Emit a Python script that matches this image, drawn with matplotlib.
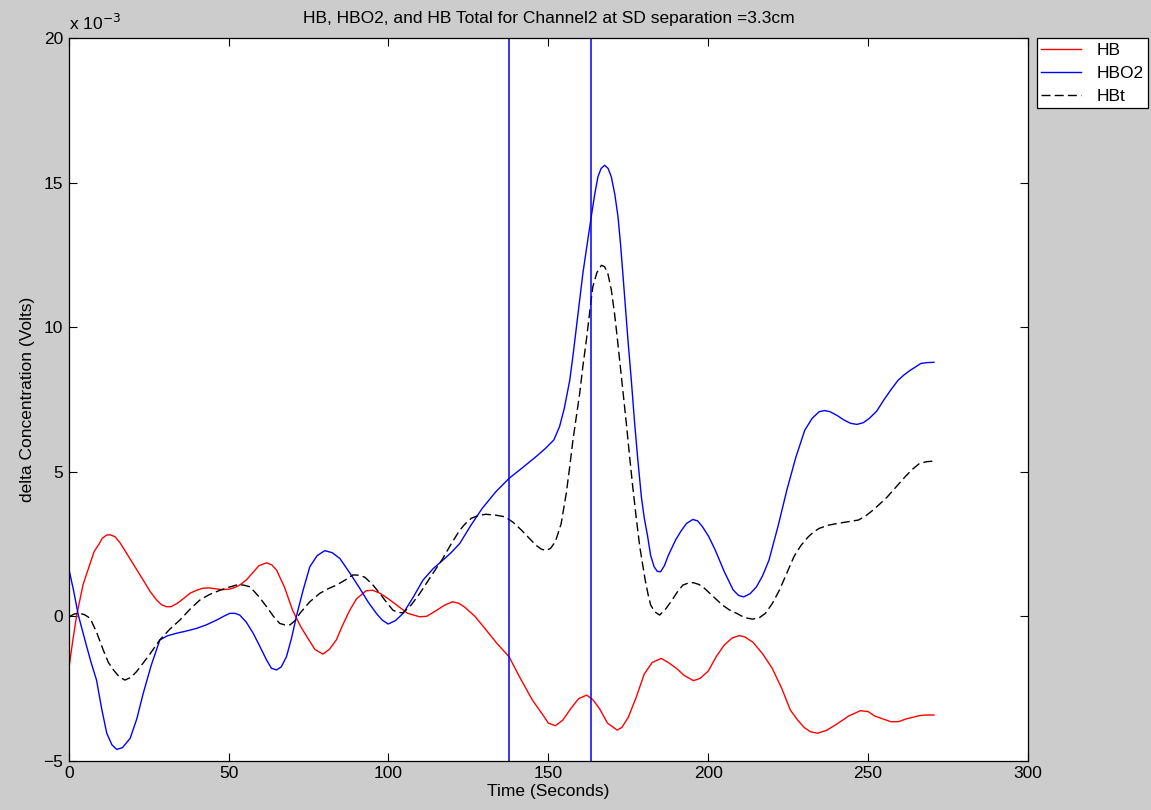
#!/usr/bin/env python3
"""
HB, HBO2 and total HB plot for channel 2 (SD separation 3.3cm).
"""
import matplotlib
matplotlib.use('Agg')
import matplotlib.pyplot as plt
import numpy as np

# readings: (time s, concentration in 1e-3 Volts)
hb = [(0, -1.85), (1.2, -0.9), (2.5, 0.04), (4.5, 1.1), (6.7, 1.83), (8, 2.25),
      (9.5, 2.5), (10.5, 2.7), (11.9, 2.81), (13, 2.82), (14.5, 2.75),
      (16, 2.55), (18.1, 2.18), (20.5, 1.75), (23.3, 1.25), (25.5, 0.85),
      (27.5, 0.56), (29, 0.4), (30.6, 0.33), (32, 0.33), (34, 0.45),
      (36, 0.62), (38, 0.8), (40, 0.9), (42, 0.97), (44, 0.98), (46, 0.95),
      (48, 0.92), (50.4, 0.94), (52, 1.0), (53.5, 1.08), (55.5, 1.25),
      (57.5, 1.5), (59.5, 1.75), (61.9, 1.85), (63.5, 1.78), (65, 1.6),
      (67.5, 1.0), (70, 0.21), (72.5, -0.35), (75, -0.8), (77, -1.15),
      (79.5, -1.31), (81.5, -1.15), (83.7, -0.82), (85.5, -0.35),
      (87.9, 0.21), (90, 0.6), (93, 0.88), (95, 0.9), (97.3, 0.8), (100, 0.6),
      (103, 0.35), (106, 0.1), (109.8, -0.02), (112, 0.0), (115, 0.2),
      (117.5, 0.38), (120, 0.5), (122, 0.45), (124, 0.3), (127, 0.0),
      (130, -0.4), (134, -0.95), (137.7, -1.4), (141, -2.1), (145, -2.9),
      (148.5, -3.45), (150, -3.7), (152.2, -3.79), (154.5, -3.6),
      (157, -3.2), (159.5, -2.85), (162, -2.73), (164, -2.9), (166, -3.2),
      (168.5, -3.7), (171.5, -3.94), (173, -3.85), (175, -3.5),
      (177.5, -2.8), (180, -2.0), (182.5, -1.6), (185.3, -1.46),
      (187.5, -1.6), (190, -1.8), (192.5, -2.05), (195.4, -2.23),
      (197.5, -2.15), (200, -1.9), (202.5, -1.4), (205, -1.0),
      (207.5, -0.75), (209.8, -0.67), (211.5, -0.72), (214, -0.9),
      (217, -1.3), (220, -1.8), (223, -2.5), (225.7, -3.25), (228, -3.6),
      (230, -3.85), (232, -4.0), (234.2, -4.05), (237, -3.95), (240, -3.75),
      (244, -3.45), (247.6, -3.27), (250, -3.3), (252, -3.45),
      (254.5, -3.55), (257.1, -3.65), (259.5, -3.65), (262, -3.55),
      (264, -3.5), (266, -3.44), (268, -3.42), (270.6, -3.42)]

hbo2 = [(0, 1.66), (1.5, 0.9), (3, 0.04), (5.5, -1.0), (7, -1.6),
        (8.7, -2.21), (10.3, -3.2), (11.9, -4.05), (13.5, -4.45), (15, -4.61),
        (16.8, -4.55), (19.2, -4.23), (21.3, -3.55), (23.3, -2.67),
        (25.8, -1.7), (28.5, -0.82), (30.8, -0.68), (33.7, -0.59),
        (36.5, -0.52), (40, -0.42), (43, -0.3), (46.3, -0.13), (48.5, 0.0),
        (50.4, 0.1), (52, 0.1), (53.5, 0.04), (55.5, -0.2), (57.7, -0.59),
        (59.8, -1.05), (61.9, -1.52), (63.4, -1.8), (65, -1.86),
        (66.5, -1.75), (68.1, -1.4), (69.7, -0.75), (71.3, 0.04), (73.3, 0.9),
        (75.4, 1.71), (77.7, 2.1), (80.1, 2.27), (82.4, 2.2), (84.8, 2.0),
        (87.9, 1.5), (91, 0.97), (93.6, 0.5), (96.2, 0.1), (98, -0.13),
        (99.9, -0.27), (102.2, -0.15), (104.6, 0.1), (107.7, 0.65),
        (110.8, 1.25), (114, 1.65), (117, 1.94), (119.6, 2.2), (122.3, 2.52),
        (125.8, 3.15), (129.3, 3.73), (133.5, 4.3), (137.7, 4.77),
        (142, 5.15), (146.1, 5.52), (149, 5.8), (151.7, 6.1), (153.5, 6.56),
        (155, 7.2), (156.7, 8.17), (157.8, 9.1), (158.8, 10.02),
        (159.8, 10.95), (160.8, 11.87), (162.1, 12.85), (163.4, 13.82),
        (164.5, 14.6), (165.5, 15.21), (166.5, 15.5), (167.6, 15.61),
        (168.7, 15.5), (169.7, 15.21), (170.8, 14.6), (171.8, 13.82),
        (172.6, 12.85), (173.3, 11.87), (174.1, 10.7), (174.9, 9.56),
        (176, 8.1), (177, 6.67), (178, 5.4), (179.1, 4.13), (180, 3.4),
        (181, 2.8), (182, 2.1), (183.1, 1.71), (184.1, 1.55), (185.1, 1.54),
        (186.3, 1.75), (187.5, 2.1), (189.8, 2.64), (191.5, 2.95),
        (193.2, 3.21), (195.2, 3.35), (196.7, 3.3), (198.2, 3.1),
        (200.2, 2.75), (202.2, 2.29), (205, 1.55), (207.8, 0.91),
        (209.5, 0.72), (211.1, 0.67), (213.1, 0.78), (215.1, 1.02),
        (217, 1.4), (219, 1.94), (221.8, 3.1), (224.6, 4.37), (227.4, 5.5),
        (230.2, 6.44), (232.5, 6.85), (234.7, 7.08), (236.4, 7.12),
        (238.1, 7.08), (240.3, 6.95), (242.5, 6.79), (244.5, 6.68),
        (246.5, 6.64), (248.5, 6.7), (250.4, 6.85), (252.7, 7.1), (255, 7.5),
        (257.2, 7.85), (259.4, 8.17), (261.2, 8.35), (263, 8.5),
        (266.5, 8.75), (268.5, 8.78), (270.6, 8.79)]

hbt = [(0, -0.02), (1.8, 0.08), (3.5, 0.1), (5, 0.05), (6.7, -0.07),
       (8.7, -0.55), (10.8, -1.17), (12.4, -1.6), (14, -1.86), (15.8, -2.1),
       (17.6, -2.21), (19.4, -2.12), (21.2, -1.92), (24.8, -1.4),
       (28.5, -0.82), (31.6, -0.45), (34.8, -0.13), (38, 0.25), (41, 0.56),
       (44, 0.75), (47.3, 0.9), (50, 1.0), (52.5, 1.08), (54.6, 1.08),
       (56.7, 1.02), (59.3, 0.7), (61.9, 0.33), (64, 0.0), (66, -0.25),
       (67.6, -0.3), (69.2, -0.3), (70.8, -0.15), (72.3, 0.1), (75.4, 0.5),
       (78.5, 0.79), (81.1, 0.95), (83.8, 1.08), (86.4, 1.25), (88.9, 1.43),
       (90.8, 1.42), (92.6, 1.35), (95, 1.1), (97.3, 0.79), (99.4, 0.48),
       (101.4, 0.21), (103, 0.13), (104.6, 0.12), (107.2, 0.4),
       (109.8, 0.79), (113.4, 1.4), (117, 2.0), (119.6, 2.5), (122.3, 2.98),
       (124, 3.2), (125.9, 3.39), (128, 3.48), (130.4, 3.53), (133.5, 3.5),
       (136.5, 3.44), (139, 3.25), (141.6, 2.98), (144, 2.7), (146.1, 2.46),
       (147.7, 2.33), (149.2, 2.27), (150.7, 2.35), (152.2, 2.58),
       (154, 3.2), (155.6, 4.25), (156.6, 5.1), (157.7, 6.1), (158.8, 6.95),
       (159.8, 7.71), (160.8, 8.65), (161.9, 9.56), (162.9, 10.5),
       (163.9, 11.4), (165.2, 11.9), (166.6, 12.15), (167.6, 12.1),
       (168.6, 11.87), (169.7, 11.3), (170.7, 10.48), (171.5, 9.7),
       (172.3, 8.87), (173.3, 7.8), (174.4, 6.67), (175.4, 5.55),
       (176.4, 4.48), (177.5, 3.4), (178.6, 2.4), (179.5, 1.8),
       (180.3, 1.25), (181.2, 0.75), (182, 0.39), (183.3, 0.15),
       (184.8, 0.04), (186.7, 0.25), (188.7, 0.56), (190.4, 0.85),
       (192.1, 1.08), (193.8, 1.15), (195.4, 1.16), (197.1, 1.1),
       (198.8, 0.97), (201.6, 0.68), (204.4, 0.39), (206.6, 0.22),
       (208.9, 0.1), (211.4, -0.05), (213.9, -0.1), (216, -0.05),
       (217.9, 0.1), (220.1, 0.45), (222.3, 0.91), (224.6, 1.5),
       (226.8, 2.06), (229, 2.45), (231.3, 2.75), (233, 2.92), (234.7, 3.04),
       (237.5, 3.15), (240.3, 3.21), (243.6, 3.27), (247, 3.33),
       (249.2, 3.47), (251.5, 3.67), (253.8, 3.9), (256, 4.13),
       (258.8, 4.48), (261.6, 4.83), (263.8, 5.08), (266.1, 5.29),
       (268.3, 5.35), (270.6, 5.37)]

# stimulus markers (seconds)
events = [137.6, 163.4]

x_ticks = [0, 50, 100, 150, 200, 250, 300]
y_ticks = [-5, 0, 5, 10, 15, 20]

plt.rcParams['font.family'] = ['Liberation Sans', 'DejaVu Sans']
FS = 12.5

fig = plt.figure(figsize=(11.51, 8.10), dpi=100, facecolor='#cccccc')
ax = fig.add_axes([0.0597, 0.0609, 0.8334, 0.8916])
ax.set_facecolor('white')

hb_t, hb_v = np.array(hb).T
hbo2_t, hbo2_v = np.array(hbo2).T
hbt_t, hbt_v = np.array(hbt).T

ax.plot(hb_t, hb_v, color='#ff0000', lw=1.0, label='HB')
ax.plot(hbo2_t, hbo2_v, color='#0000ff', lw=1.0, label='HBO2')
ax.plot(hbt_t, hbt_v, color='black', lw=1.0, dashes=(6.5, 3.0), label='HBt')
for ev in events:
    ax.axvline(ev, color='#0000ff', lw=1.1)

ax.set_xlim(0, 300)
ax.set_ylim(-5, 20)
ax.set_xticks(x_ticks)
ax.set_yticks(y_ticks)
ax.tick_params(direction='in', length=6, width=0.8, top=True, right=True,
               labelsize=FS, pad=4)
for sp in ax.spines.values():
    sp.set_linewidth(0.9)

ax.text(0.0, 1.008, r'x 10$^{-3}$', transform=ax.transAxes, fontsize=FS,
        ha='left', va='bottom')
ax.set_title('HB, HBO2, and HB Total for Channel2 at SD separation =3.3cm',
             fontsize=FS, pad=11)
ax.set_xlabel('Time (Seconds)', fontsize=FS, labelpad=2)
ax.set_ylabel('delta Concentration (Volts)', fontsize=FS, labelpad=6)

leg = ax.legend(loc='upper left', bbox_to_anchor=(1.0094, 1.0), fontsize=FS,
                frameon=True, fancybox=False, handlelength=2.3,
                borderpad=0.25, labelspacing=0.45, handletextpad=0.9,
                borderaxespad=0)
leg.get_frame().set_edgecolor('black')
leg.get_frame().set_linewidth(0.9)
leg.get_frame().set_alpha(1.0)

plt.savefig('out.png', dpi=100, facecolor=fig.get_facecolor())
